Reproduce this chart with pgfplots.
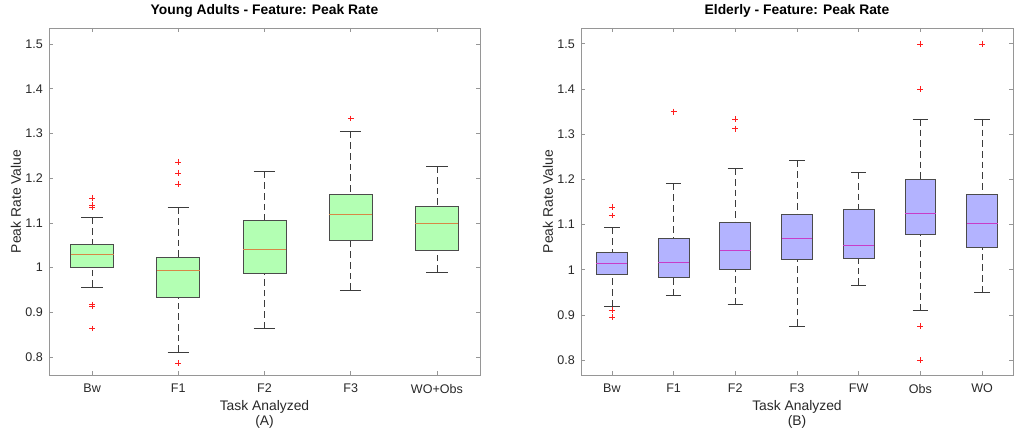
\documentclass[border=0pt]{standalone}
\usepackage{pgfplots}
\pgfplotsset{compat=1.18}
\usepgfplotslibrary{statistics}
\usepackage{fontspec}
\setmainfont{Liberation Sans}
\definecolor{gfill}{RGB}{179,255,179}
\definecolor{bfill}{RGB}{179,179,255}
\definecolor{gmed}{RGB}{215,135,70}
\definecolor{bmed}{RGB}{200,60,200}
\definecolor{boxedge}{RGB}{75,75,75}
\definecolor{wcol}{RGB}{60,60,60}
\definecolor{axgray}{RGB}{150,150,150}
\definecolor{txt}{RGB}{40,40,40}
\definecolor{outred}{RGB}{255,30,30}
\pgfplotsset{
  mlbox/.style={
    boxplot/draw direction=y,
    boxplot/box extend=0.5,
    boxplot/whisker extend=0.25,
    boxplot/draw/lower whisker/.code={%
      \draw[wcol, dash pattern=on 5pt off 3pt, line width=0.5pt]
        (boxplot box cs:\pgfplotsboxplotvalue{lower whisker},0.5) -- (boxplot box cs:\pgfplotsboxplotvalue{lower quartile},0.5);
      \draw[wcol, solid, line width=0.5pt]
        (boxplot whisker cs:\pgfplotsboxplotvalue{lower whisker},0) -- (boxplot whisker cs:\pgfplotsboxplotvalue{lower whisker},1);
    },
    boxplot/draw/upper whisker/.code={%
      \draw[wcol, dash pattern=on 5pt off 3pt, line width=0.5pt]
        (boxplot box cs:\pgfplotsboxplotvalue{upper whisker},0.5) -- (boxplot box cs:\pgfplotsboxplotvalue{upper quartile},0.5);
      \draw[wcol, solid, line width=0.5pt]
        (boxplot whisker cs:\pgfplotsboxplotvalue{upper whisker},0) -- (boxplot whisker cs:\pgfplotsboxplotvalue{upper whisker},1);
    },
    boxedge, solid, line width=0.6pt,
    mark=+, mark size=2.2pt, mark options={draw=outred, solid, line width=0.4pt},
  },
  gbox/.style={mlbox,
    boxplot/every box/.style={draw=boxedge, fill=gfill, line width=0.6pt},
    boxplot/every median/.style={gmed, line width=0.7pt}},
  bbox/.style={mlbox,
    boxplot/every box/.style={draw=boxedge, fill=bfill, line width=0.6pt},
    boxplot/every median/.style={bmed, line width=0.7pt}},
  commonax/.style={
    scale only axis, height=260.25pt, anchor=south west,
    ytick={0.8,0.9,1,1.1,1.2,1.3,1.4,1.5},
    yticklabels={0.8,0.9,1,1.1,1.2,1.3,1.4,1.5},
    tick label style={font=\fontsize{9.4}{11}\selectfont, text=txt},
    xticklabel style={inner sep=0pt, yshift=-6.5pt},
    yticklabel style={inner sep=0pt, xshift=-4.5pt},
    label style={font=\fontsize{10.4}{11.2}\selectfont, text=txt},
    xlabel style={align=center, inner sep=0pt, at={(axis description cs:0.5,0)}, anchor=north, yshift=-19pt},
    ylabel style={inner sep=0pt, at={([xshift=-24.75pt]axis description cs:0,0.5)}, anchor=center},
    title style={font=\bfseries\fontsize{10.4}{12}\selectfont, text=black, at={(0.5,1)}, anchor=base, yshift=4pt},
    axis line style={axgray, line width=0.6pt},
    tick style={axgray, line width=0.5pt},
    major tick length=3pt, tick align=inside,
    ylabel={Peak Rate Value},
  },
}
\begin{document}
\begin{tikzpicture}
\path[use as bounding box] (0,0) rectangle (761.25pt,321pt);
% Left: Young Adults
\begin{axis}[commonax, at={(36.75pt,39.75pt)}, width=323.25pt,
  xmin=0.5, xmax=5.5, ymin=0.76, ymax=1.536,
  xtick={1,2,3,4,5}, xticklabels={Bw,F1,F2,F3,WO+Obs},
  title={Young Adults - Feature: Peak Rate},
  xlabel={Task Analyzed\\(A)}]
\addplot[gbox, boxplot prepared={draw position=1, lower whisker=0.957, lower quartile=1.0, median=1.0295, upper quartile=1.053, upper whisker=1.1115}]
  coordinates {(0,1.156) (0,1.1406) (0,1.1346) (0,0.9176) (0,0.9131) (0,0.864)};
\addplot[gbox, boxplot prepared={draw position=2, lower whisker=0.8117, lower quartile=0.934, median=0.9937, upper quartile=1.024, upper whisker=1.134}]
  coordinates {(0,1.2368) (0,1.2122) (0,1.1876) (0,0.7864)};
\addplot[gbox, boxplot prepared={draw position=3, lower whisker=0.864, lower quartile=0.9862, median=1.0406, upper quartile=1.1048, upper whisker=1.2144}]
  coordinates {};
\addplot[gbox, boxplot prepared={draw position=4, lower whisker=0.9504, lower quartile=1.0615, median=1.1189, upper quartile=1.1637, upper whisker=1.3039}]
  coordinates {(0,1.3337)};
\addplot[gbox, boxplot prepared={draw position=5, lower whisker=0.9907, lower quartile=1.0384, median=1.0996, upper quartile=1.136, upper whisker=1.2263}]
  coordinates {};
\end{axis}
% Right: Elderly
\begin{axis}[commonax, at={(435.75pt,39.75pt)}, width=324pt,
  xmin=0.5, xmax=7.5, ymin=0.767, ymax=1.535,
  xtick={1,2,3,4,5,6,7}, xticklabels={Bw,F1,F2,F3,FW,Obs,WO},
  title={Elderly - Feature: Peak Rate},
  xlabel={Task Analyzed\\(B)}]
\addplot[bbox, boxplot prepared={draw position=1, lower whisker=0.9191, lower quartile=0.9893, median=1.0129, upper quartile=1.0373, upper whisker=1.0928}]
  coordinates {(0,1.1393) (0,1.12) (0,0.9102) (0,0.8954)};
\addplot[bbox, boxplot prepared={draw position=2, lower whisker=0.9427, lower quartile=0.9841, median=1.0159, upper quartile=1.0691, upper whisker=1.1903}]
  coordinates {(0,1.35)};
\addplot[bbox, boxplot prepared={draw position=3, lower whisker=0.9235, lower quartile=1.0004, median=1.0418, upper quartile=1.1046, upper whisker=1.2243}]
  coordinates {(0,1.3337) (0,1.3123)};
\addplot[bbox, boxplot prepared={draw position=4, lower whisker=0.8755, lower quartile=1.0233, median=1.0684, upper quartile=1.1216, upper whisker=1.2421}]
  coordinates {};
\addplot[bbox, boxplot prepared={draw position=5, lower whisker=0.9664, lower quartile=1.0248, median=1.0536, upper quartile=1.1327, upper whisker=1.2154}]
  coordinates {};
\addplot[bbox, boxplot prepared={draw position=6, lower whisker=0.9095, lower quartile=1.0772, median=1.1245, upper quartile=1.1992, upper whisker=1.3337}]
  coordinates {(0,1.5) (0,1.3995) (0,0.8747) (0,0.8)};
\addplot[bbox, boxplot prepared={draw position=7, lower whisker=0.9501, lower quartile=1.0499, median=1.1016, upper quartile=1.1667, upper whisker=1.3337}]
  coordinates {(0,1.5)};
\end{axis}
\end{tikzpicture}
\end{document}
